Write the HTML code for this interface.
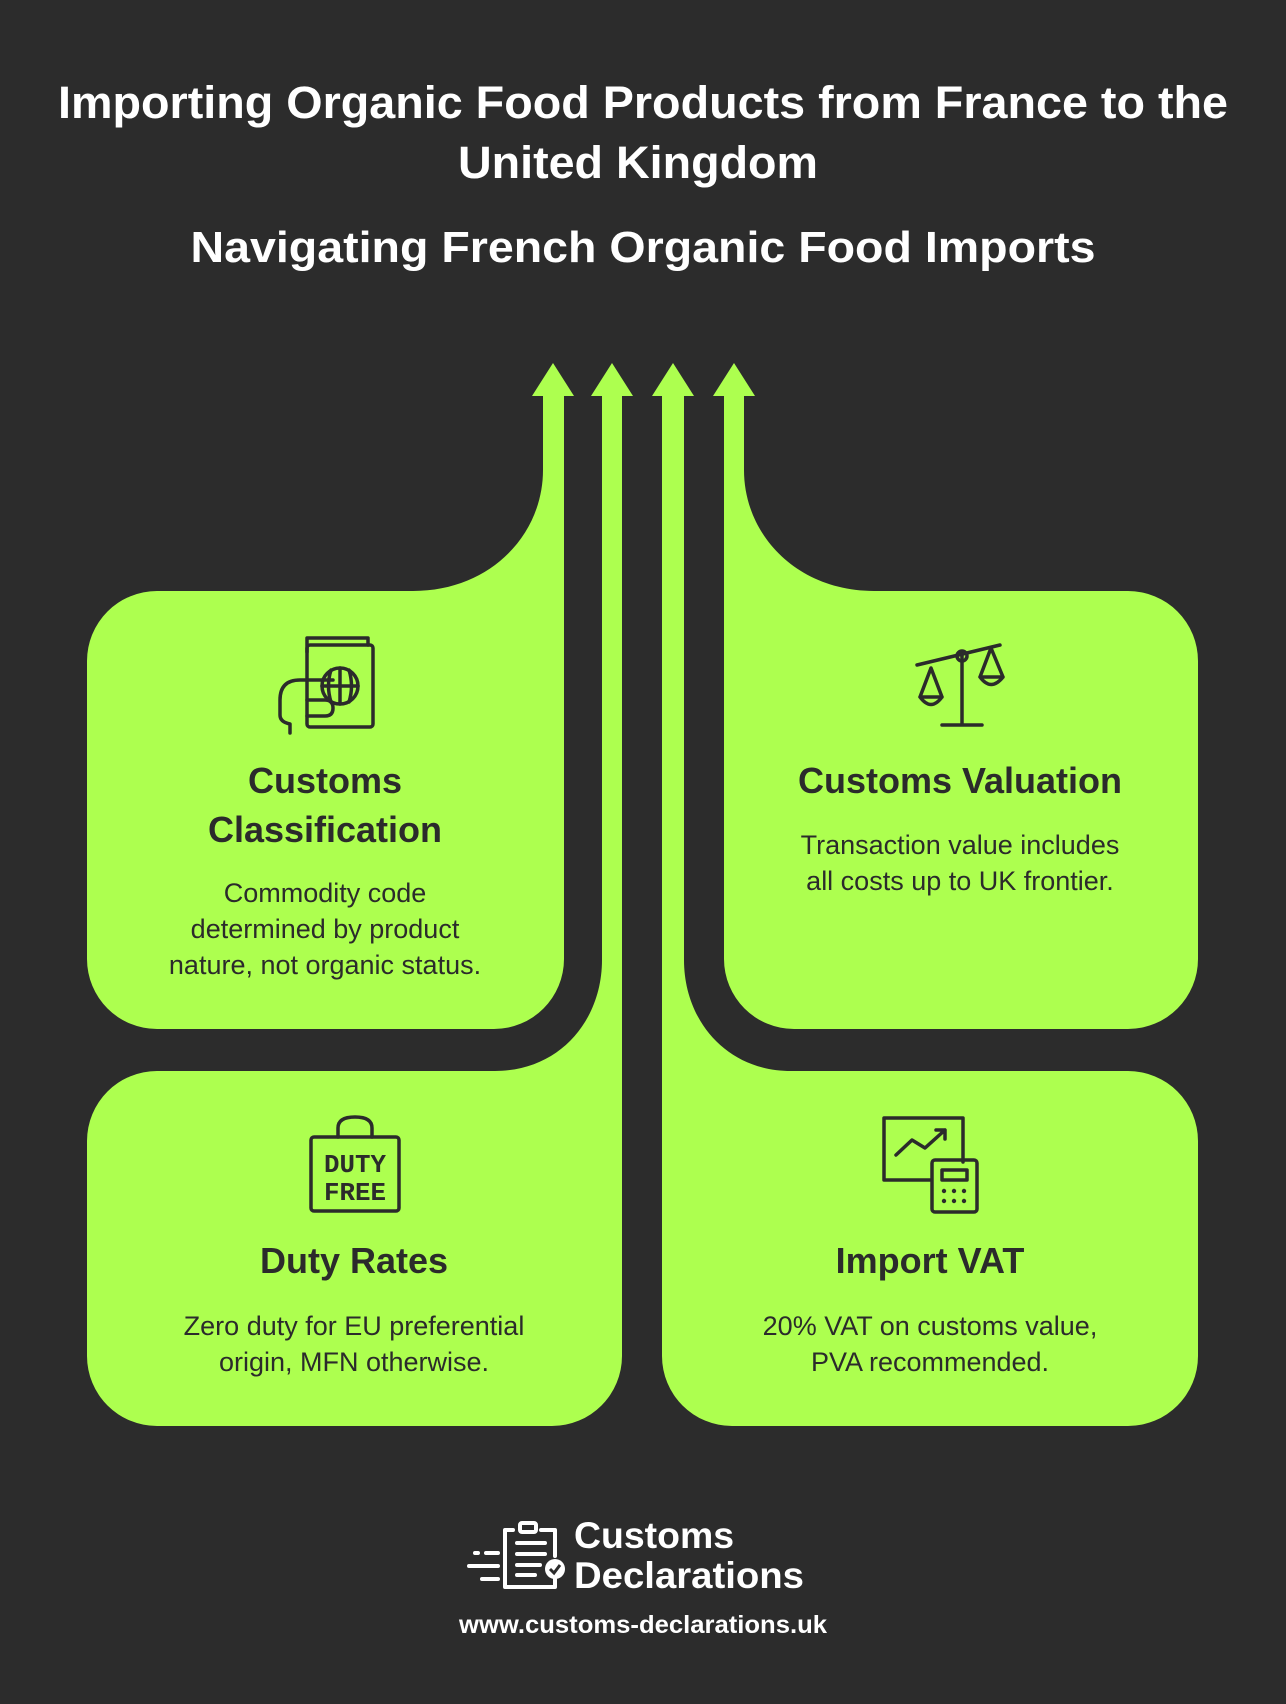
<!DOCTYPE html>
<html><head><meta charset="utf-8"><style>
html,body{margin:0;padding:0;background:#2c2c2c;}
svg{display:block}
</style></head><body>
<svg width="1286" height="1704" viewBox="0 0 1286 1704" xmlns="http://www.w3.org/2000/svg">
<rect width="1286" height="1704" fill="#2c2c2c"/>
<g font-family="Liberation Sans, sans-serif" font-weight="bold" fill="#ffffff" text-anchor="middle">
<text x="643" y="118" font-size="45" textLength="1170" lengthAdjust="spacingAndGlyphs">Importing Organic Food Products from France to the</text>
<text x="638" y="178" font-size="45" textLength="360" lengthAdjust="spacingAndGlyphs">United Kingdom</text>
<text x="643" y="262" font-size="44" textLength="905" lengthAdjust="spacingAndGlyphs">Navigating French Organic Food Imports</text>
</g>
<g fill="#adff4f">
<path d="M157,591 L413,591 C490,591 543,535 543,470 L543,396 L532,396 L553,363 L574,396 L564,396 L564,959 A70,70 0 0 1 494,1029 L157,1029 A70,70 0 0 1 87,959 L87,661 A70,70 0 0 1 157,591 Z"/>
<path d="M157,1071 L495,1071 C560,1071 602,1020 602,960 L602,396 L591,396 L612,363 L633,396 L622,396 L622,1356 A70,70 0 0 1 552,1426 L157,1426 A70,70 0 0 1 87,1356 L87,1141 A70,70 0 0 1 157,1071 Z"/>
<path d="M662,396 L652,396 L673,363 L694,396 L684,396 L684,960 C684,1020 726,1071 791,1071 L1128,1071 A70,70 0 0 1 1198,1141 L1198,1356 A70,70 0 0 1 1128,1426 L732,1426 A70,70 0 0 1 662,1356 Z"/>
<path d="M724,396 L713,396 L734,363 L755,396 L744,396 L744,470 C744,535 797,591 874,591 L1128,591 A70,70 0 0 1 1198,661 L1198,959 A70,70 0 0 1 1128,1029 L794,1029 A70,70 0 0 1 724,959 Z"/>
</g>
<g fill="none" stroke="#2b2b2b" stroke-width="3.5" stroke-linejoin="round" stroke-linecap="round">
<rect x="307" y="645" width="66" height="82" rx="3"/>
<path d="M307,652 L307,638 L368,638 L368,645"/>
<circle cx="340" cy="686" r="18"/>
<path d="M322,686 H358 M340,668 V704 M331,670 Q326,686 331,702 M349,670 Q354,686 349,702"/>
<path d="M333,680 H300 Q280,680 280,700 L280,715 Q280,722 290,724 L290,733"/>
<path d="M307,700 H325 Q333,700 333,708 Q333,716 325,716 H307"/>
<path d="M917,665 L1000,645 M962,655 V725 M942,725 H982"/>
<circle cx="962" cy="656" r="5"/>
<path d="M931,668 L920,697 H942 Z M920,697 Q931,712 942,697"/>
<path d="M991,648 L980,677 H1003 Z M980,677 Q991,692 1003,677"/>
<rect x="311" y="1137" width="88" height="74" rx="3"/>
<path d="M338,1137 V1128 Q338,1117 355,1117 Q372,1117 372,1128 V1137"/>
<path d="M930,1180 H884 V1118 H963 V1162"/>
<path d="M896,1155 L912,1140 L925,1148 L945,1130 M936,1130 H945 V1139"/>
<rect x="932" y="1160" width="45" height="52" rx="3"/>
<rect x="942" y="1170" width="25" height="10"/>
</g>
<g fill="#2b2b2b">
<circle cx="944" cy="1191" r="2.2"/><circle cx="954" cy="1191" r="2.2"/><circle cx="964" cy="1191" r="2.2"/>
<circle cx="944" cy="1201" r="2.2"/><circle cx="954" cy="1201" r="2.2"/><circle cx="964" cy="1201" r="2.2"/>
</g>
<g font-family="Liberation Mono, monospace" font-weight="bold" fill="#2b2b2b" text-anchor="middle" font-size="26">
<text x="355" y="1172" textLength="62" lengthAdjust="spacingAndGlyphs">DUTY</text>
<text x="355" y="1200" textLength="62" lengthAdjust="spacingAndGlyphs">FREE</text>
</g>
<g font-family="Liberation Sans, sans-serif" fill="#2b2b2b" text-anchor="middle">
<g font-weight="bold" font-size="36">
<text x="325" y="793">Customs</text>
<text x="325" y="842">Classification</text>
<text x="960" y="793">Customs Valuation</text>
<text x="354" y="1273">Duty Rates</text>
<text x="930" y="1273">Import VAT</text>
</g>
<g font-size="27">
<text x="325" y="902">Commodity code</text>
<text x="325" y="938">determined by product</text>
<text x="325" y="974">nature, not organic status.</text>
<text x="960" y="854">Transaction value includes</text>
<text x="960" y="890">all costs up to UK frontier.</text>
<text x="354" y="1335">Zero duty for EU preferential</text>
<text x="354" y="1371">origin, MFN otherwise.</text>
<text x="930" y="1335">20% VAT on customs value,</text>
<text x="930" y="1371">PVA recommended.</text>
</g>
</g>
<g fill="none" stroke="#ffffff" stroke-width="4" stroke-linecap="round" stroke-linejoin="round">
<path d="M513,1530 H505 V1587 H555 V1575 M541,1530 H555 V1556"/>
<rect x="520" y="1523" width="16" height="9" rx="2"/>
<path d="M517,1543 H545 M517,1554 H545 M517,1565 H540 M517,1575 H535"/>
<path d="M475,1553 H478 M486,1553 H498 M469,1566 H498 M482,1579 H498"/>
</g>
<circle cx="555" cy="1569" r="10" fill="#ffffff"/>
<path d="M550,1569 L554,1573 L560,1565" fill="none" stroke="#2c2c2c" stroke-width="3"/>
<g font-family="Liberation Sans, sans-serif" font-weight="bold" fill="#ffffff">
<text x="574" y="1548" font-size="37" textLength="160" lengthAdjust="spacingAndGlyphs">Customs</text>
<text x="574" y="1588" font-size="37" textLength="230" lengthAdjust="spacingAndGlyphs">Declarations</text>
<text x="643" y="1633" font-size="25" text-anchor="middle" textLength="368" lengthAdjust="spacingAndGlyphs">www.customs-declarations.uk</text>
</g>
</svg>
</body></html>
